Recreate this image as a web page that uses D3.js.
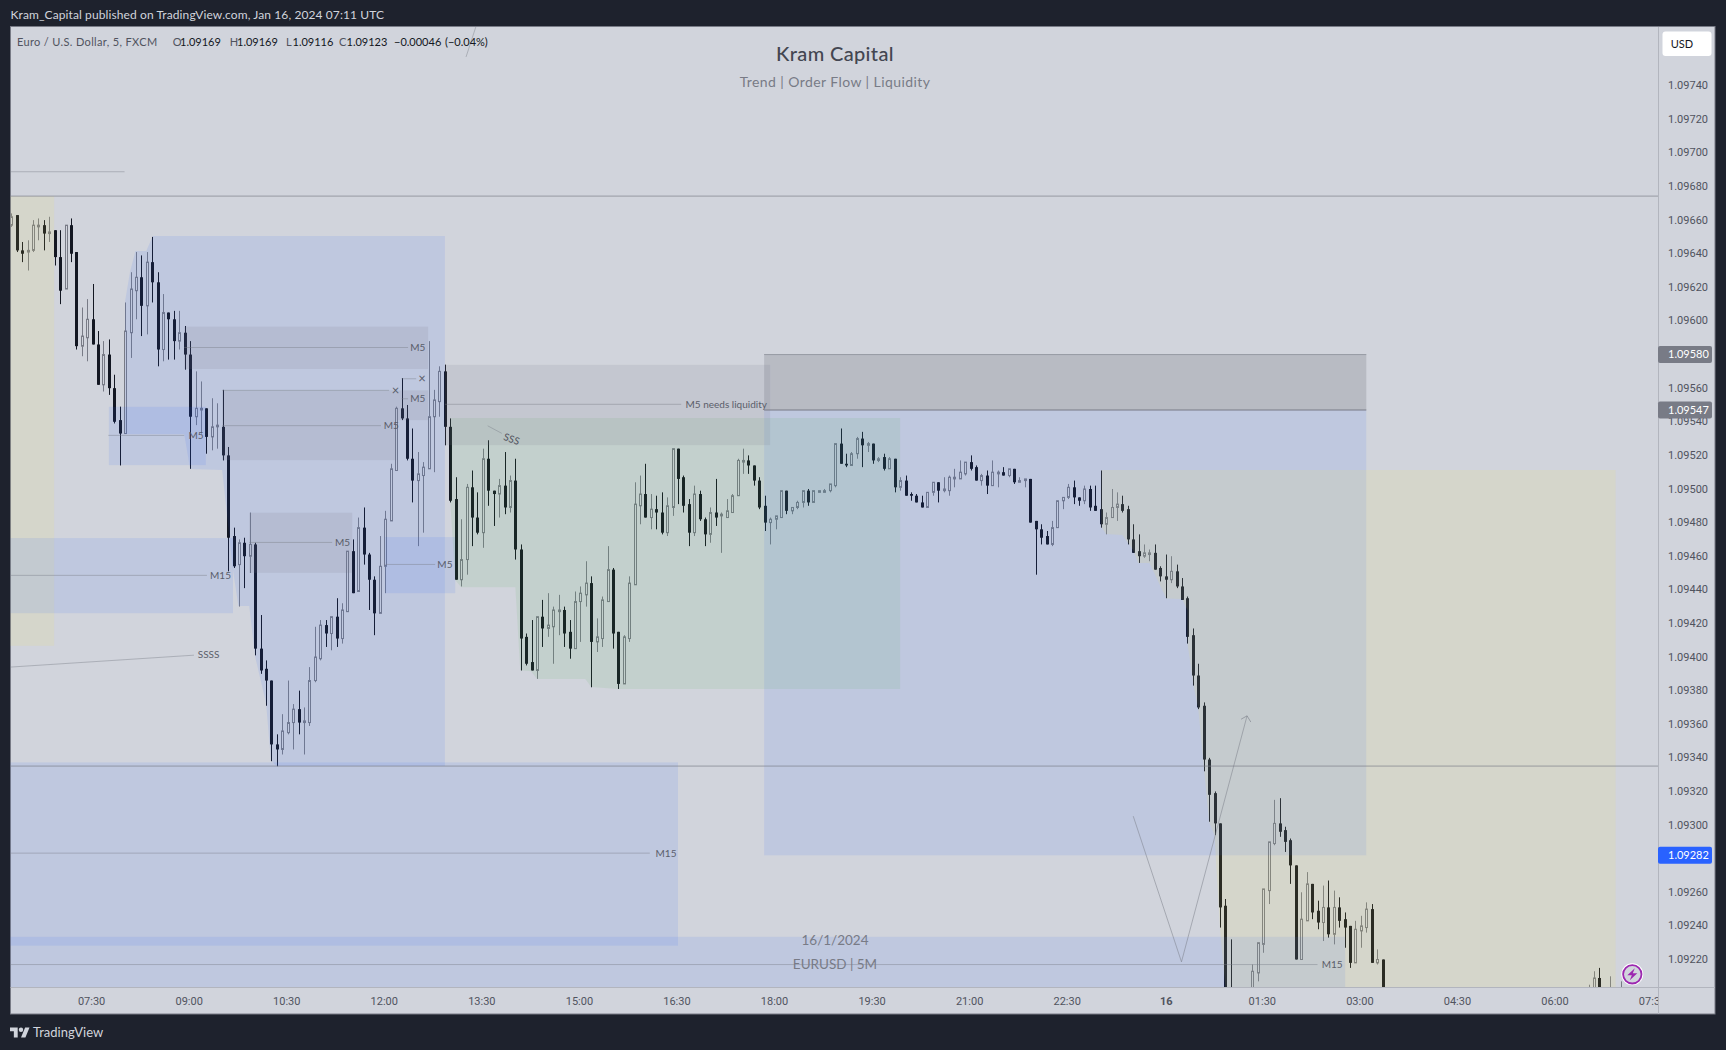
<!DOCTYPE html>
<html><head><meta charset="utf-8">
<script src="https://cdn.jsdelivr.net/npm/d3@7"></script>
<style>
html,body{margin:0;padding:0;background:#1e222d;overflow:hidden}
svg{display:block}
text{font-family:"Lato","Open Sans",sans-serif}
.tick text{font-family:"Roboto",sans-serif}
</style></head><body><svg id="c" width="1726" height="1050"></svg>
<script>
// All prices below are in 0.00001 units above 1.09000 (e.g. 664 = 1.09664).
const highs=[664,663,647,648,660,661,660,662,654,654,
657,661,641,608,613,622,594,588,589,568,
549,611,629,641,639,641,650,629,616,605,
606,606,597,588,570,564,548,554,551,559,
525,477,470,471,486,468,425,398,386,354,
366,386,372,380,370,394,418,422,422,424,
435,432,463,470,483,489,462,448,472,487,
515,549,566,550,536,522,516,588,559,573,
574,542,507,482,503,511,498,524,529,499,
506,522,508,518,467,414,422,424,434,438,
430,437,430,422,439,442,457,448,423,436,
466,453,415,413,448,504,508,515,497,496,
498,495,524,524,508,494,502,499,483,489,
506,486,494,497,518,524,520,514,507,496,
483,484,499,499,489,493,499,500,499,499,
500,503,527,536,521,522,531,534,528,527,
519,521,519,518,507,508,498,497,496,498,
504,504,507,508,512,517,516,520,514,509,
511,517,511,513,512,512,507,506,506,481,
479,475,481,493,495,503,505,495,502,502,
502,511,486,500,498,496,490,479,473,467,
464,467,454,461,460,455,447,436,417,396,
373,340,320,301,256,232,
217,230,262,290,315,316,299,292,276,260,272,265,255,264,267,261,257,248,240,243,246,254,253,226,220,
205,213,215,210,207];
const bodyTops=[662,663,642,642,657,657,657,653,654,638,
657,657,641,591,601,601,586,580,580,560,
541,594,619,626,626,635,635,623,605,605,
601,593,593,580,548,548,548,537,538,537,
520,472,468,468,467,467,405,393,386,348,
356,361,369,369,362,386,400,419,419,424,
424,428,463,463,477,477,461,446,454,482,
512,548,548,542,518,509,513,543,553,570,
570,537,494,458,501,501,483,518,518,499,
502,502,505,505,464,412,397,424,424,419,
428,428,428,415,433,438,444,444,412,434,
452,452,415,412,444,491,497,497,488,488,
486,490,524,524,507,491,497,497,482,486,
486,485,487,496,517,517,517,514,505,490,
482,484,499,499,489,492,499,499,499,499,
499,503,527,527,515,521,530,530,527,527,
518,519,518,518,505,505,497,496,492,498,
504,504,500,507,507,510,516,516,513,508,
508,510,510,510,512,512,505,506,506,481,
476,472,477,493,495,501,501,495,500,500,
490,488,483,489,491,491,488,470,463,462,
462,462,453,448,451,451,442,435,413,389,
371,339,319,301,252,190,
213,230,262,290,301,301,297,291,276,244,265,265,249,251,251,251,251,244,240,238,240,250,250,220,220,
200,209,209,200,200];
const bodyBottoms=[657,642,640,641,642,656,652,652,638,618,
619,640,585,585,590,586,562,562,560,540,
533,533,593,618,609,609,623,583,583,601,
588,588,580,543,543,547,531,531,537,520,
471,454,455,460,460,405,392,386,348,345,
345,355,361,361,361,361,386,399,414,414,
411,411,427,438,439,461,446,426,426,454,
481,511,542,518,505,505,508,512,543,552,
537,493,446,446,458,483,474,474,499,497,
497,489,489,464,411,396,392,392,417,417,
418,427,414,405,405,433,437,409,409,411,
433,414,384,384,411,443,490,483,483,486,
474,474,489,506,490,474,474,482,473,473,
483,484,483,486,496,516,514,505,489,480,
480,482,483,487,487,489,492,492,492,498,
498,499,502,515,514,514,521,526,526,517,
517,512,512,501,501,496,496,492,489,489,
498,499,499,499,506,506,509,512,505,505,
502,502,509,508,508,504,504,505,480,476,
471,467,467,477,493,495,495,493,493,489,
487,479,479,483,489,487,470,462,460,460,
461,452,448,446,446,442,434,412,389,370,
339,318,301,251,190,175,
192,212,229,261,289,296,290,276,220,220,243,248,242,242,235,235,243,239,218,218,237,239,218,218,182,
190,198,195,195,195];
const lows=[656,641,635,630,641,648,642,647,633,610,
619,635,583,579,576,586,562,558,556,539,
514,533,578,601,591,592,611,573,576,577,
577,583,571,512,538,533,521,523,524,517,
451,453,430,441,450,401,390,371,338,335,
342,354,345,354,342,359,385,398,406,404,
406,408,427,438,439,455,428,413,426,438,
481,511,541,517,492,466,474,512,510,543,
526,492,446,442,449,466,473,465,490,478,
483,485,486,458,392,395,392,387,406,412,
396,413,406,399,405,409,430,382,403,406,
433,405,381,384,409,443,479,483,476,476,
473,472,484,491,486,466,472,481,466,468,
478,462,483,486,496,509,509,502,488,475,
467,476,483,485,485,488,489,490,492,498,
498,498,501,515,513,514,518,513,522,515,
516,511,512,498,499,496,493,492,489,489,
496,492,498,496,501,506,508,511,505,502,
497,502,501,508,507,503,504,501,480,449,
467,467,466,477,488,494,491,490,491,487,
487,477,473,483,481,486,467,462,456,459,
457,452,445,435,444,441,434,408,383,369,
332,302,294,239,184,170,
188,207,224,253,288,293,284,265,220,220,243,244,238,231,233,229,239,227,215,218,227,236,218,217,180,
188,195,190,190,190];
const rising=[1,0,0,1,1,1,0,1,0,0,
1,0,0,1,1,0,0,1,0,0,
0,1,1,1,0,1,0,0,1,0,
0,1,0,0,1,1,0,1,1,0,
0,0,1,0,1,0,0,0,0,0,
1,1,1,0,1,1,1,1,0,1,
0,1,1,0,1,0,0,0,1,1,
1,1,0,0,0,1,1,1,1,1,
0,0,0,1,1,0,0,1,0,0,
1,0,1,0,0,0,0,1,0,1,
1,1,0,0,1,1,1,0,1,1,
1,0,0,1,1,1,1,0,1,0,
0,1,1,0,0,0,1,0,0,1,
0,1,1,1,1,1,0,0,0,0,
1,1,1,0,1,1,1,0,1,1,
1,1,1,0,0,1,1,0,1,0,
1,0,1,0,1,0,0,0,0,1,
1,0,1,1,1,1,1,0,0,1,
0,1,1,0,1,0,1,1,0,0,
0,0,1,1,1,1,0,0,1,0,
0,0,1,1,1,0,0,0,0,1,
1,0,0,0,1,0,0,0,0,0,
0,0,0,0,0,0,
1,1,1,1,1,0,0,0,0,1,1,0,0,1,0,1,0,0,0,1,1,1,0,1,0,
1,1,0,1,1];
// 5-minute bar number of each candle (bars hidden below the time axis are not listed)
const barNumbers=[...d3.range(1,227),...d3.range(230,255),292,293,294,296,298];

const priceTicks=d3.range(1.0922,1.09741,0.0002);
const timeLabels=['07:30','09:00','10:30','12:00','13:30','15:00','16:30','18:00','19:30','21:00','22:30','16','01:30','03:00','04:30','06:00','07:30'];
const timeBars=timeLabels.map((_,i)=>16+18*i);

// zones: [barStart, barEnd, top, bottom]
const olivePanel=[[-3,8.9,674.3,406.7]];
const blueRects=[[19,36.9,548.9,514.2],[-3,41.9,470.8,426.1],[70,82.9,471.4,438],[-3,124,337.3,228.2],[-3,247.1,233.5,190],[139.9,251,547,282]];
const greyRects=[[32.9,77.9,596.6,571.4],[39.9,77.9,558.7,541],[39.9,72.1,541,517.2],[44.9,63.9,485.9,450.1],[81,141,573.9,526.1]];
const darkRects=[[139.9,251,580,547]];
// left edges that hug the candles: [bar, price]
const bluePoly=[[27.1,650.5],[25.9,641.6],[23.9,641.6],[22.9,629.1],[22,611.9],[22,532.7],[32.9,532.7],[34,511.9],[39.9,511.3],[41.9,451.7],[42.9,430.3],[44.9,430.3],[46,400],[48,372.6],[48.9,338.7],[49.9,335.1],[81,335.1],[81,650.5]];
const greenPoly=[[82,542.2],[82,492.2],[82.9,445.8],[84,441.6],[94,441.6],[94.9,392.2],[96.9,391.6],[98,386.9],[106.9,386.9],[108,382.1],[112.8,381],[165,381],[165,542.2]];
const olivePoly=[[202.1,511.3],[202.1,477.5],[203,473.2],[206,472.6],[208,463.6],[208.9,455.9],[211,455.9],[214.1,434.9],[217,434.5],[218,428],[218,408.3],[219.1,383.3],[220,369],[221.1,332.1],[222,301.8],[223,294],[224,238.7],[225,203.5],[225,190],[297,190],[297,511.3]];

// annotation segments: [bar1, price1, bar2, price2]
const annoLines=[[32.9,584.2,74.2,584.2],[73,565.6,75.7,565.6],[39.9,558.7,70.7,558.7],[73,553.7,74.2,553.7],[39.9,537.7,69.2,537.7],[18.9,531.9,32.9,531.9],[44.9,468.2,60.2,468.2],[70,455.1,79.2,455.1],[-3,448.6,37.1,448.6],[0.76,394,34.7,401.1],[81,550.4,124.6,550.4],[88.9,537.6,91.5,533.1],[-3,283.3,118.8,283.3],[-3,217,242,217],[84.9,757.1,86.7,774.9],[-3,688.8,21.9,688.8]];
const annoLabels=[['M5',76,584.2],['×',76.8,565.6],['×',71.9,558.7],['M5',76,553.7],['M5',71.1,537.7],['M5',35.1,531.9],['M5',62.1,468.2],['M5',81,455.1],['M15',39.6,448.6],['SSSS',37.4,401.6],['M5 needs liquidity',132.9,550.4],['M15',121.8,283.3],['M15',244.7,217]];
const rotatedLabel=['SSS',93.3,529.7];
const levels=[674.3,335.1];
const vPath=[[208,305.3],[216.9,218.6],[229,365]];
const vArrow=[[227.9,363],[229,365],[229.7,361.3]];
const priceTags=[[580,'#787b86'],[547,'#787b86'],[282,'#2962ff']];

const title='Kram Capital',subtitle='Trend | Order Flow | Liquidity',foot1='16/1/2024',foot2='EURUSD | 5M';
const publishLine='Kram_Capital published on TradingView.com, Jan 16, 2024 07:11 UTC';
const legendParts=['Euro / U.S. Dollar, 5, FXCM','O','1.09169','H','1.09169','L','1.09116','C','1.09123','−0.00046','(−0.04%)'];

const px=p=>1.09+p/1e5;
const L=10.5,R=1658,T=27,B=987,BOX_R=1715,BOX_B=1014;
const x=d3.scaleLinear().domain([1,304]).range([11.3,11.3+303*5.42]);
const y=d3.scaleLinear().domain([1.0922,1.0974]).range([959.5,85.7]);
const Y=p=>y(px(p));
const svg=d3.select('#c');
const defs=svg.append('defs');
defs.append('clipPath').attr('id','plot').append('rect').attr('x',L).attr('y',T).attr('width',R-L).attr('height',B-T);

svg.append('rect').attr('x',L).attr('y',T-.5).attr('width',BOX_R-L).attr('height',BOX_B-T+.5).attr('fill','#d1d4dc').attr('stroke','#787b86');

const plot=svg.append('g').attr('clip-path','url(#plot)');
// candles
const candles=barNumbers.map((b,i)=>({b,h:highs[i],t:bodyTops[i],bb:bodyBottoms[i],l:lows[i],up:!!rising[i]}));
const UP='#787b86',DN='#131722';
const snap=v=>Math.round(v)+.5;
const cg=plot.append('g').selectAll('g').data(candles).join('g');
cg.append('line').attr('x1',d=>snap(x(d.b))).attr('x2',d=>snap(x(d.b))).attr('y1',d=>Y(d.h)).attr('y2',d=>Y(d.l)).attr('stroke',d=>d.up?UP:DN);
cg.append('rect').attr('x',d=>snap(x(d.b))-(d.up?1:1.5)).attr('width',d=>d.up?2:3).attr('y',d=>Y(d.t)).attr('height',d=>Math.max(1,Y(d.bb)-Y(d.t)))
  .attr('fill',d=>d.up?'#d1d4dc':DN).attr('stroke',d=>d.up?UP:'none');

// zones over the candles
const zones=plot.append('g');
const rectZone=(arr,fill)=>zones.append('g').selectAll('rect').data(arr).join('rect')
 .attr('x',d=>x(d[0])).attr('width',d=>x(d[1])-x(d[0])).attr('y',d=>Y(d[2])).attr('height',d=>Y(d[3])-Y(d[2])).attr('fill',fill);
const poly=d3.line().x(d=>x(d[0])).y(d=>Y(d[1]));
const BLUE='rgba(41,98,255,.1)',GREEN='rgba(76,175,80,.1)',OLIVE='rgba(255,235,59,.1)',GREY='rgba(120,123,134,.14)',DARK='rgba(120,123,134,.28)';
rectZone(olivePanel,OLIVE);
rectZone(blueRects,BLUE);
zones.append('path').attr('d',poly(bluePoly)+'Z').attr('fill',BLUE);
zones.append('path').attr('d',poly(greenPoly)+'Z').attr('fill',GREEN);
zones.append('path').attr('d',poly(olivePoly)+'Z').attr('fill',OLIVE);
rectZone(greyRects,GREY);
rectZone(darkRects,DARK);
zones.append('g').selectAll('line').data(darkRects).join('line').attr('x1',d=>x(d[0])).attr('x2',d=>x(d[1])).attr('y1',d=>Y(d[3])).attr('y2',d=>Y(d[3])).attr('stroke','#787b86').attr('stroke-width',1);
zones.append('g').selectAll('line').data(darkRects).join('line').attr('x1',d=>x(d[0])).attr('x2',d=>x(d[1])).attr('y1',d=>Y(d[2])).attr('y2',d=>Y(d[2])).attr('stroke','#787b86').attr('stroke-opacity',.6);

// annotations
const ag=plot.append('g');
ag.append('g').selectAll('line').data(levels).join('line').attr('x1',L).attr('x2',R).attr('y1',d=>Y(d)).attr('y2',d=>Y(d)).attr('stroke','#787b86').attr('stroke-opacity',.65);
ag.append('g').selectAll('line').data(annoLines).join('line').attr('x1',d=>x(d[0])).attr('y1',d=>Y(d[1])).attr('x2',d=>x(d[2])).attr('y2',d=>Y(d[3])).attr('stroke','#787b86').attr('stroke-opacity',.42);
ag.append('g').selectAll('text').data(annoLabels).join('text').attr('x',d=>x(d[1])).attr('y',d=>Y(d[2])).attr('dy','.35em').attr('text-anchor','middle').attr('font-size',d=>d[0]==='×'?13:10).attr('fill','#50535e').attr('opacity',.9).text(d=>d[0]);
ag.append('text').attr('transform',`translate(${x(rotatedLabel[1])},${Y(rotatedLabel[2])}) rotate(20)`).attr('dy','.35em').attr('text-anchor','middle').attr('font-size',10).attr('fill','#50535e').text(rotatedLabel[0]);
ag.append('path').attr('d',poly(vPath)).attr('fill','none').attr('stroke','#787b86').attr('stroke-opacity',.5);
ag.append('path').attr('d',poly(vArrow)).attr('fill','none').attr('stroke','#787b86').attr('stroke-opacity',.6);

// axes
svg.append('line').attr('x1',R+.5).attr('x2',R+.5).attr('y1',T).attr('y2',BOX_B).attr('stroke','#b2b5be');
svg.append('line').attr('x1',L).attr('x2',BOX_R).attr('y1',B+.5).attr('y2',B+.5).attr('stroke','#b2b5be');
const yAxis=d3.axisRight(y).tickValues(priceTicks).tickFormat(d3.format('.5f')).tickSize(0).tickPadding(10);
const ya=svg.append('g').attr('transform',`translate(${R},-0.5)`).call(yAxis);
ya.select('.domain').remove();
ya.selectAll('text').attr('font-size',11).attr('fill','#50535e');
defs.append('clipPath').attr('id','taxisLocal').append('rect').attr('x',L).attr('y',0).attr('width',R-L).attr('height',BOX_B-B);
const xAxis=d3.axisBottom(x).tickValues(timeBars).tickFormat((d,i)=>timeLabels[i]).tickSize(0).tickPadding(10);
const xa=svg.append('g').attr('transform',`translate(0,${B})`).attr('clip-path','url(#taxisLocal)').call(xAxis);
xa.select('.domain').remove();
xa.selectAll('text').attr('font-size',11).attr('fill','#50535e').attr('dx',d=>d===16+18*11?0:-1.5).attr('font-weight',d=>d===16+18*11?700:400);

// price tags
const tags=svg.append('g').selectAll('g').data(priceTags).join('g').attr('transform',d=>`translate(${R},${Y(d[0])})`);
tags.append('rect').attr('y',-8.5).attr('width',54).attr('height',17).attr('rx',2).attr('fill',d=>d[1]);
tags.append('text').attr('x',10).attr('dy','.35em').attr('font-size',11).attr('fill','#fff').attr('font-family','Roboto').text(d=>px(d[0]).toFixed(5));

// USD
svg.append('rect').attr('x',1662.5).attr('y',31.5).attr('width',49).attr('height',24.5).attr('rx',3).attr('fill','#fff');
svg.append('text').attr('x',1682).attr('y',44).attr('dy','.35em').attr('text-anchor','middle').attr('font-size',11).attr('font-family','Roboto').attr('fill','#131722').text('USD');

// title block
const center=(t,yy,fs,col,w,ls)=>svg.append('text').attr('x',835).attr('y',yy).attr('dy','.35em').attr('text-anchor','middle').attr('font-size',fs).attr('letter-spacing',ls||0).attr('fill',col).attr('font-weight',w||400).text(t);
center(title,54,20,'#434651',500,.35);
center(subtitle,82,14,'#787b86',400,.42);
center(foot1,940,13.5,'#787b86');
center(foot2,964,13.5,'#787b86');

// legend
const legendX=[17,172.7,180,229.7,237,286,292.5,339,346.5,394,445];
const legendCol=['#50535e','#50535e','#131722','#50535e','#131722','#50535e','#131722','#50535e','#131722','#131722','#131722'];
svg.append('g').selectAll('text').data(legendParts).join('text').attr('x',(d,i)=>legendX[i]).attr('y',42).attr('dy','.35em').attr('font-size',11).attr('font-family','Roboto').attr('letter-spacing',(d,i)=>i?0:.35).attr('fill',(d,i)=>legendCol[i]).text(d=>d);

// header, footer
svg.append('text').attr('x',10.5).attr('y',15).attr('dy','.35em').attr('font-size',12).attr('letter-spacing',.1).attr('fill','#d1d4dc').text(publishLine);
svg.append('g').attr('transform','translate(10,1025.3) scale(.55)').attr('fill','#d1d4dc').call(g=>{
 g.append('path').attr('d','M14 22H7V11H0V4h14v18zM28 22h-8l7.5-18h8L28 22z');
 g.append('circle').attr('cx',20).attr('cy',8).attr('r',4);
});
svg.append('text').attr('x',33).attr('y',1032).attr('dy','.35em').attr('font-size',13).attr('fill','#d1d4dc').text('TradingView');

// bolt badge
const bolt=svg.append('g').attr('transform','translate(1632.3,974.3)');
bolt.append('circle').attr('r',11).attr('fill','#fff');
bolt.append('circle').attr('r',9.2).attr('fill','#d1d4dc').attr('stroke','#9c27b0').attr('stroke-width',1.8);
bolt.append('path').attr('d','M2.5-6L-5 1H-.5L-2.5 6L5-1H.5Z').attr('fill','#9c27b0');
</script></body></html>
